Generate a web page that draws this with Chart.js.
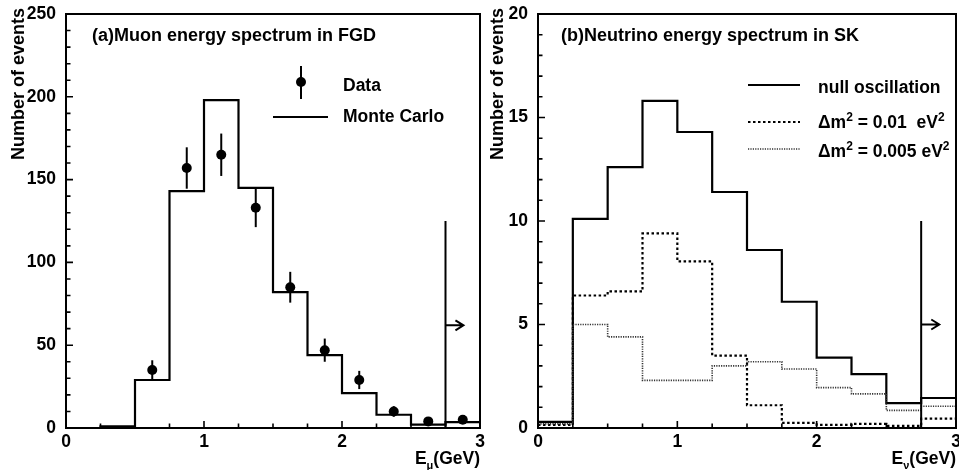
<!DOCTYPE html>
<html><head><meta charset="utf-8">
<script src="https://cdn.jsdelivr.net/npm/chart.js@4/dist/chart.umd.min.js"></script>
<style>
html,body{margin:0;padding:0;background:#fff;width:959px;height:470px;overflow:hidden}
#a{position:absolute;left:0;top:0;width:490px;height:470px}
#b{position:absolute;left:479px;top:0;width:480px;height:470px}
</style></head><body>
<canvas id="a" width="490" height="470"></canvas>
<canvas id="b" width="480" height="470"></canvas>
<script>
const FONT = '"Liberation Sans", Arial, Helvetica, sans-serif';

// ---- data ----
const binEdges   = [0, 0.25, 0.5, 0.75, 1.0, 1.25, 1.5, 1.75, 2.0, 2.25, 2.5, 2.75, 3.0];
const muonMC     = [0, 1, 29, 143, 198, 145, 82, 44, 21, 8, 2, 3.5];
const muonDataE  = [0.625, 0.875, 1.125, 1.375, 1.625, 1.875, 2.125, 2.375, 2.625, 2.875];
const muonData   = [35, 157, 165, 133, 85, 47, 29, 10, 4, 5];
const muonErr    = [5.9, 12.5, 12.8, 11.7, 9.3, 7.0, 5.5, 3.2, 2.0, 2.2];
const nuNull     = [0.3, 10.1, 12.6, 15.8, 14.3, 11.4, 8.6, 6.1, 3.4, 2.6, 1.2, 1.45];
const nuDm01     = [0.15, 6.4, 6.6, 9.4, 8.05, 3.5, 1.1, 0.25, 0.15, 0.2, 0.1, 0.45];
const nuDm005    = [0.2, 5.0, 4.4, 2.3, 2.3, 3.0, 3.2, 2.85, 1.95, 1.65, 0.85, 1.05];
const xTicks     = [0, 1, 2, 3];
const muonYTicks = [0, 50, 100, 150, 200, 250];
const nuYTicks   = [0, 5, 10, 15, 20];
const cutE = 2.75, arrowEndE = 2.88;
const muonCut = {top: 125, arrow: 62};
const nuCut   = {top: 10, arrow: 5};
const titles = ['(a)Muon energy spectrum in FGD', '(b)Neutrino energy spectrum in SK'];
const yTitle = 'Number of events';
const muonLegend = ['Data', 'Monte Carlo'];
const nuLegend = ['null oscillation', 'Δm|2| = 0.01  eV|2|', 'Δm|2| = 0.005 eV|2|'];

const TXT = 17.5;

function steps(vals){ return binEdges.map((x,i)=>({x, y: vals[Math.min(i, vals.length-1)]})); }

function richText(ctx, str, x, y, size){
  const parts = str.split('|').map((t,i)=>({t, sup: i%2===1}));
  let cx = x;
  ctx.textAlign = 'left'; ctx.textBaseline = 'alphabetic';
  parts.forEach(p=>{
    ctx.font = 'bold '+(p.sup?12:size)+'px '+FONT;
    ctx.fillText(p.t, cx, p.sup ? y-7 : y);
    cx += ctx.measureText(p.t).width;
  });
}
function subText(ctx, main, sub, rest, x, y, size){
  ctx.textBaseline='alphabetic'; ctx.textAlign='left';
  ctx.font = 'bold '+size+'px '+FONT; const w1 = ctx.measureText(main).width; const w3 = ctx.measureText(rest).width;
  ctx.font = 'bold 11px '+FONT; const w2 = ctx.measureText(sub).width;
  let cx = x - (w1+w2+w3);
  ctx.font = 'bold '+size+'px '+FONT; ctx.fillText(main, cx, y); cx += w1;
  ctx.font = 'bold 11px '+FONT; ctx.fillText(sub, cx, y+5); cx += w2;
  ctx.font = 'bold '+size+'px '+FONT; ctx.fillText(rest, cx, y);
}

function decorPlugin(cfg){
  return {
    id: 'decor'+cfg.id,
    afterDatasetsDraw(chart){
      const ctx = chart.ctx, xs = chart.scales.x, ys = chart.scales.y;
      if (cfg.err){
        ctx.save(); ctx.strokeStyle='#000'; ctx.lineWidth=2;
        cfg.err.e.forEach((e,i)=>{
          const px = xs.getPixelForValue(e);
          ctx.beginPath();
          ctx.moveTo(px, ys.getPixelForValue(cfg.err.v[i]+cfg.err.s[i]));
          ctx.lineTo(px, ys.getPixelForValue(Math.max(0,cfg.err.v[i]-cfg.err.s[i])));
          ctx.stroke();
        });
        ctx.restore();
      }
    },
    afterDraw(chart){
      const ctx = chart.ctx, a = chart.chartArea, xs = chart.scales.x, ys = chart.scales.y;
      ctx.save();
      ctx.strokeStyle = '#000'; ctx.fillStyle = '#000'; ctx.lineWidth = 2;
      ctx.strokeRect(a.left, a.top, a.right-a.left, a.bottom-a.top);
      ctx.lineWidth = 1.6;
      ctx.beginPath();
      for (let v = 0; v <= 3.0001; v += 0.25){
        const px = xs.getPixelForValue(v);
        const major = Math.abs(v-Math.round(v))<1e-6;
        ctx.moveTo(px, a.bottom); ctx.lineTo(px, a.bottom - (major?7:4.5));
      }
      for (let v = 0; v <= ys.max+1e-6; v += cfg.yMinor){
        const py = ys.getPixelForValue(v);
        const major = Math.abs(v/cfg.yMajor - Math.round(v/cfg.yMajor))<1e-6;
        ctx.moveTo(a.left, py); ctx.lineTo(a.left + (major?7:4.5), py);
      }
      ctx.stroke();
      ctx.lineWidth = 2;
      const cx = xs.getPixelForValue(cutE);
      ctx.beginPath();
      ctx.moveTo(cx, ys.getPixelForValue(0)); ctx.lineTo(cx, ys.getPixelForValue(cfg.cut.top));
      const ay = ys.getPixelForValue(cfg.cut.arrow), ax = xs.getPixelForValue(arrowEndE);
      ctx.moveTo(cx, ay); ctx.lineTo(ax, ay);
      ctx.moveTo(ax-8, ay-5); ctx.lineTo(ax, ay); ctx.lineTo(ax-8, ay+5);
      ctx.stroke();
      ctx.font = 'bold 18px '+FONT; ctx.textAlign='left'; ctx.textBaseline='alphabetic';
      ctx.fillText(cfg.title, cfg.titleX, 41);
      ctx.save(); ctx.translate(19, 8); ctx.rotate(-Math.PI/2);
      ctx.font = 'bold 18px '+FONT; ctx.textAlign='right'; ctx.textBaseline='middle';
      ctx.fillText(yTitle, 0, 0); ctx.restore();
      subText(ctx, 'E', cfg.xSub, '(GeV)', a.right, 464, TXT);
      cfg.legend(ctx);
      ctx.restore();
    }
  };
}

function scales(ymax, yticks, yW){
  return {
    x: { type:'linear', min:0, max:3,
      afterBuildTicks: s => { s.ticks = xTicks.map(v=>({value:v})); },
      afterFit: s => { s.height = 42; s.paddingLeft = 0; s.paddingRight = 0; },
      grid:{display:false, drawTicks:false}, border:{display:false},
      ticks:{ color:'#000', font:{family:FONT, size:TXT, weight:'bold'}, padding:4, maxRotation:0, autoSkip:false } },
    y: { type:'linear', min:0, max:ymax,
      afterBuildTicks: s => { s.ticks = yticks.map(v=>({value:v})); },
      afterFit: s => { s.width = yW; s.paddingTop = 0; s.paddingBottom = 0; },
      grid:{display:false, drawTicks:false}, border:{display:false},
      ticks:{ color:'#000', font:{family:FONT, size:TXT, weight:'bold'}, padding:10, autoSkip:false } }
  };
}

const common = { responsive:false, animation:false, devicePixelRatio:1,
  plugins:{ legend:{display:false}, tooltip:{enabled:false} } };

new Chart(document.getElementById('a'), {
  type:'line',
  data:{ datasets:[
    { label:'Monte Carlo', data: steps(muonMC), stepped:'before', borderColor:'#000', borderWidth:2.2, pointRadius:0, fill:false },
    { label:'Data', data: muonDataE.map((e,i)=>({x:e, y:muonData[i]})), showLine:false, pointRadius:5, pointBackgroundColor:'#000', pointBorderColor:'#000', pointBorderWidth:0 }
  ]},
  options: Object.assign({}, common, {
    layout:{ padding:{ left:0, top:14, right:10, bottom:0 } },
    scales: scales(250, muonYTicks, 66)
  }),
  plugins:[ decorPlugin({ id:'a', yMinor:10, yMajor:50, cut:muonCut, title:titles[0], titleX:92, xSub:'μ',
    err:{e:muonDataE, v:muonData, s:muonErr},
    legend(ctx){
      ctx.lineWidth = 2;
      ctx.beginPath(); ctx.arc(301, 82, 5, 0, Math.PI*2); ctx.fill();
      ctx.beginPath(); ctx.moveTo(301, 66); ctx.lineTo(301, 99); ctx.moveTo(273, 117); ctx.lineTo(328, 117); ctx.stroke();
      ctx.font = 'bold '+TXT+'px '+FONT; ctx.textAlign='left'; ctx.textBaseline='alphabetic';
      ctx.fillText(muonLegend[0], 343, 91);
      ctx.fillText(muonLegend[1], 343, 122);
    } }) ]
});

new Chart(document.getElementById('b'), {
  type:'line',
  data:{ datasets:[
    { label:nuLegend[2], data: steps(nuDm005), stepped:'before', borderColor:'#333', borderWidth:1.6, borderDash:[1.2,1.2], pointRadius:0, fill:false },
    { label:nuLegend[1], data: steps(nuDm01), stepped:'before', borderColor:'#000', borderWidth:2.2, borderDash:[2.5,2.5], pointRadius:0, fill:false },
    { label:nuLegend[0], data: steps(nuNull), stepped:'before', borderColor:'#000', borderWidth:2.2, pointRadius:0, fill:false }
  ]},
  options: Object.assign({}, common, {
    layout:{ padding:{ left:0, top:14, right:3, bottom:0 } },
    scales: scales(20, nuYTicks, 59)
  }),
  plugins:[ decorPlugin({ id:'b', yMinor:1, yMajor:5, cut:nuCut, title:titles[1], titleX:82, xSub:'ν',
    legend(ctx){
      ctx.lineWidth = 2.2; ctx.strokeStyle='#000';
      ctx.beginPath(); ctx.moveTo(269, 85); ctx.lineTo(321, 85); ctx.stroke();
      ctx.setLineDash([2.5,2.5]);
      ctx.beginPath(); ctx.moveTo(269, 122); ctx.lineTo(321, 122); ctx.stroke();
      ctx.setLineDash([1.2,1.2]); ctx.lineWidth=1.6; ctx.strokeStyle='#333';
      ctx.beginPath(); ctx.moveTo(269, 149); ctx.lineTo(321, 149); ctx.stroke();
      ctx.setLineDash([]);
      ctx.font = 'bold '+TXT+'px '+FONT; ctx.textAlign='left'; ctx.textBaseline='alphabetic';
      ctx.fillText(nuLegend[0], 339, 93);
      richText(ctx, nuLegend[1], 339, 128, TXT);
      richText(ctx, nuLegend[2], 339, 157, TXT);
    } }) ]
});
</script>
</body></html>
